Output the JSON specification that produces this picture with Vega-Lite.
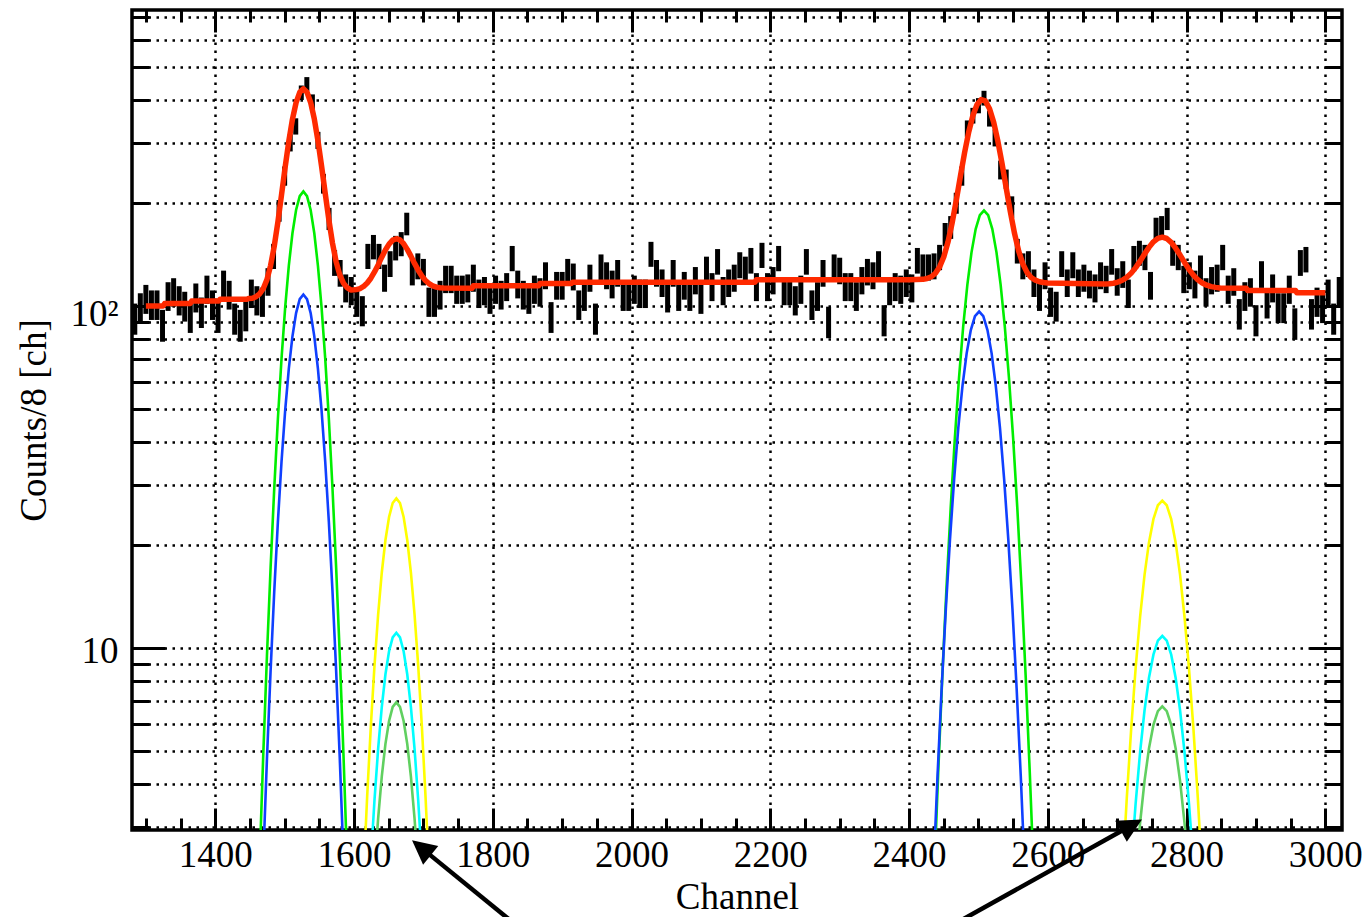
{
"$schema":"https://vega.github.io/schema/vega-lite/v6.json",
"width":1210,"height":820,
"autosize":{"type":"none"},
"padding":{"left":132,"top":10,"right":23,"bottom":87},
"background":"white",
"config":{
 "view":{"stroke":"black","strokeWidth":3.5},
 "font":"Liberation Serif",
 "axis":{"labelFont":"Liberation Serif","titleFont":"Liberation Serif","labelFontSize":37,"titleFontSize":37,"titleFontWeight":"normal","labelColor":"black","titleColor":"black","tickColor":"black","tickWidth":3,"gridColor":"black","gridDash":[2.5,5.5],"gridWidth":2.5,"gridOpacity":1,"domain":false,"labelOverlap":false,"labelFlush":false}
},
"resolve":{"axis":{"x":"independent","y":"independent"}},
"datasets":{
"hist":[
{"ch":1284,"n":92,"e":9.6},{"ch":1292,"n":99,"e":9.9},{"ch":1300,"n":105,"e":10.2},{"ch":1308,"n":101,"e":10},{"ch":1316,"n":101,"e":10},{"ch":1324,"n":88,"e":9.4},{"ch":1332,"n":107,"e":10.3},{"ch":1340,"n":110,"e":10.5},{"ch":1348,"n":104,"e":10.2},{"ch":1356,"n":100,"e":10},
{"ch":1364,"n":93,"e":9.6},{"ch":1372,"n":106,"e":10.3},{"ch":1380,"n":96,"e":9.8},{"ch":1388,"n":112,"e":10.6},{"ch":1396,"n":101,"e":10},{"ch":1404,"n":93,"e":9.6},{"ch":1412,"n":116,"e":10.8},{"ch":1420,"n":108,"e":10.4},{"ch":1428,"n":92,"e":9.6},{"ch":1436,"n":88,"e":9.4},
{"ch":1444,"n":94,"e":9.7},{"ch":1452,"n":109,"e":10.4},{"ch":1460,"n":104,"e":10.2},{"ch":1468,"n":103,"e":10.1},{"ch":1476,"n":118,"e":10.9},{"ch":1484,"n":140,"e":11.8},{"ch":1492,"n":190,"e":13.8},{"ch":1500,"n":240,"e":15.5},{"ch":1508,"n":300,"e":17.3},{"ch":1516,"n":335,"e":18.3},
{"ch":1524,"n":420,"e":20.5},{"ch":1532,"n":445,"e":21.1},{"ch":1540,"n":395,"e":19.9},{"ch":1548,"n":305,"e":17.5},{"ch":1556,"n":228,"e":15.1},{"ch":1564,"n":180,"e":13.4},{"ch":1572,"n":134,"e":11.6},{"ch":1580,"n":125,"e":11.2},{"ch":1588,"n":113,"e":10.6},{"ch":1596,"n":111,"e":10.5},
{"ch":1604,"n":103,"e":10.1},{"ch":1612,"n":97,"e":9.8},{"ch":1620,"n":140,"e":11.8},{"ch":1628,"n":149,"e":12.2},{"ch":1636,"n":140,"e":11.8},{"ch":1644,"n":121,"e":11},{"ch":1652,"n":133,"e":11.5},{"ch":1660,"n":148,"e":12.2},{"ch":1668,"n":152,"e":12.3},{"ch":1676,"n":174,"e":13.2},
{"ch":1684,"n":126,"e":11.2},{"ch":1692,"n":131,"e":11.4},{"ch":1700,"n":126,"e":11.2},{"ch":1708,"n":103,"e":10.1},{"ch":1716,"n":103,"e":10.1},{"ch":1724,"n":108,"e":10.4},{"ch":1732,"n":120,"e":11},{"ch":1740,"n":120,"e":11},{"ch":1748,"n":112,"e":10.6},{"ch":1756,"n":112,"e":10.6},
{"ch":1764,"n":113,"e":10.6},{"ch":1772,"n":121,"e":11},{"ch":1780,"n":109,"e":10.4},{"ch":1788,"n":111,"e":10.5},{"ch":1796,"n":105,"e":10.2},{"ch":1804,"n":112,"e":10.6},{"ch":1812,"n":108,"e":10.4},{"ch":1820,"n":114,"e":10.7},{"ch":1828,"n":138,"e":11.7},{"ch":1836,"n":116,"e":10.8},
{"ch":1844,"n":108,"e":10.4},{"ch":1852,"n":105,"e":10.2},{"ch":1860,"n":112,"e":10.6},{"ch":1868,"n":110,"e":10.5},{"ch":1876,"n":123,"e":11.1},{"ch":1884,"n":93,"e":9.6},{"ch":1892,"n":115,"e":10.7},{"ch":1900,"n":115,"e":10.7},{"ch":1908,"n":126,"e":11.2},{"ch":1916,"n":122,"e":11},
{"ch":1924,"n":101,"e":10},{"ch":1932,"n":107,"e":10.3},{"ch":1940,"n":121,"e":11},{"ch":1948,"n":92,"e":9.6},{"ch":1956,"n":130,"e":11.4},{"ch":1964,"n":123,"e":11.1},{"ch":1972,"n":116,"e":10.8},{"ch":1980,"n":125,"e":11.2},{"ch":1988,"n":107,"e":10.3},{"ch":1996,"n":107,"e":10.3},
{"ch":2004,"n":112,"e":10.6},{"ch":2012,"n":109,"e":10.4},{"ch":2020,"n":109,"e":10.4},{"ch":2028,"n":142,"e":11.9},{"ch":2036,"n":125,"e":11.2},{"ch":2044,"n":117,"e":10.8},{"ch":2052,"n":106,"e":10.3},{"ch":2060,"n":125,"e":11.2},{"ch":2068,"n":107,"e":10.3},{"ch":2076,"n":115,"e":10.7},
{"ch":2084,"n":107,"e":10.3},{"ch":2092,"n":119,"e":10.9},{"ch":2100,"n":105,"e":10.2},{"ch":2108,"n":128,"e":11.3},{"ch":2116,"n":114,"e":10.7},{"ch":2124,"n":135,"e":11.6},{"ch":2132,"n":111,"e":10.5},{"ch":2140,"n":117,"e":10.8},{"ch":2148,"n":121,"e":11},{"ch":2156,"n":132,"e":11.5},
{"ch":2164,"n":128,"e":11.3},{"ch":2172,"n":136,"e":11.7},{"ch":2180,"n":114,"e":10.7},{"ch":2188,"n":141,"e":11.9},{"ch":2196,"n":114,"e":10.7},{"ch":2204,"n":119,"e":10.9},{"ch":2212,"n":138,"e":11.7},{"ch":2220,"n":111,"e":10.5},{"ch":2228,"n":111,"e":10.5},{"ch":2236,"n":104,"e":10.2},
{"ch":2244,"n":112,"e":10.6},{"ch":2252,"n":135,"e":11.6},{"ch":2260,"n":101,"e":10},{"ch":2268,"n":107,"e":10.3},{"ch":2276,"n":125,"e":11.2},{"ch":2284,"n":90,"e":9.5},{"ch":2292,"n":130,"e":11.4},{"ch":2300,"n":127,"e":11.3},{"ch":2308,"n":114,"e":10.7},{"ch":2316,"n":114,"e":10.7},
{"ch":2324,"n":107,"e":10.3},{"ch":2332,"n":119,"e":10.9},{"ch":2340,"n":126,"e":11.2},{"ch":2348,"n":123,"e":11.1},{"ch":2356,"n":133,"e":11.5},{"ch":2364,"n":91,"e":9.5},{"ch":2372,"n":111,"e":10.5},{"ch":2380,"n":114,"e":10.7},{"ch":2388,"n":112,"e":10.6},{"ch":2396,"n":117,"e":10.8},
{"ch":2404,"n":113,"e":10.6},{"ch":2412,"n":136,"e":11.7},{"ch":2420,"n":130,"e":11.4},{"ch":2428,"n":130,"e":11.4},{"ch":2436,"n":131,"e":11.4},{"ch":2444,"n":139,"e":11.8},{"ch":2452,"n":162,"e":12.7},{"ch":2460,"n":170,"e":13},{"ch":2468,"n":200,"e":14.1},{"ch":2476,"n":240,"e":15.5},
{"ch":2484,"n":330,"e":18.2},{"ch":2492,"n":360,"e":19},{"ch":2500,"n":385,"e":19.6},{"ch":2508,"n":405,"e":20.1},{"ch":2516,"n":353,"e":18.8},{"ch":2524,"n":310,"e":17.6},{"ch":2532,"n":250,"e":15.8},{"ch":2540,"n":235,"e":15.3},{"ch":2548,"n":195,"e":14},{"ch":2556,"n":145,"e":12},
{"ch":2564,"n":131,"e":11.4},{"ch":2572,"n":133,"e":11.5},{"ch":2580,"n":117,"e":10.8},{"ch":2588,"n":107,"e":10.3},{"ch":2596,"n":123,"e":11.1},{"ch":2604,"n":103,"e":10.1},{"ch":2612,"n":100,"e":10},{"ch":2620,"n":133,"e":11.5},{"ch":2628,"n":117,"e":10.8},{"ch":2636,"n":132,"e":11.5},
{"ch":2644,"n":117,"e":10.8},{"ch":2652,"n":121,"e":11},{"ch":2660,"n":116,"e":10.8},{"ch":2668,"n":113,"e":10.6},{"ch":2676,"n":123,"e":11.1},{"ch":2684,"n":120,"e":11},{"ch":2692,"n":135,"e":11.6},{"ch":2700,"n":118,"e":10.9},{"ch":2708,"n":124,"e":11.1},{"ch":2716,"n":109,"e":10.4},
{"ch":2724,"n":138,"e":11.7},{"ch":2732,"n":143,"e":12},{"ch":2740,"n":139,"e":11.8},{"ch":2748,"n":115,"e":10.7},{"ch":2756,"n":168,"e":13},{"ch":2764,"n":170,"e":13},{"ch":2772,"n":180,"e":13.4},{"ch":2780,"n":143,"e":12},{"ch":2788,"n":139,"e":11.8},{"ch":2796,"n":120,"e":11},
{"ch":2804,"n":123,"e":11.1},{"ch":2812,"n":116,"e":10.8},{"ch":2820,"n":129,"e":11.4},{"ch":2828,"n":110,"e":10.5},{"ch":2836,"n":119,"e":10.9},{"ch":2844,"n":121,"e":11},{"ch":2852,"n":139,"e":11.8},{"ch":2860,"n":112,"e":10.6},{"ch":2868,"n":118,"e":10.9},{"ch":2876,"n":95,"e":9.7},
{"ch":2884,"n":107,"e":10.3},{"ch":2892,"n":110,"e":10.5},{"ch":2900,"n":91,"e":9.5},{"ch":2908,"n":124,"e":11.1},{"ch":2916,"n":102,"e":10.1},{"ch":2924,"n":113,"e":10.6},{"ch":2932,"n":99,"e":9.9},{"ch":2940,"n":99,"e":9.9},{"ch":2948,"n":112,"e":10.6},{"ch":2956,"n":89,"e":9.4},
{"ch":2964,"n":134,"e":11.6},{"ch":2972,"n":137,"e":11.7},{"ch":2980,"n":95,"e":9.7},{"ch":2988,"n":103,"e":10.1},{"ch":2996,"n":99,"e":9.9},{"ch":3004,"n":109,"e":10.4},{"ch":3012,"n":92,"e":9.6},{"ch":3020,"n":111,"e":10.5}
],
"comp":[
{"x":1458.75,"y":1.1,"c":"G","p":1},{"x":1464,"y":2.4,"c":"G","p":1},{"x":1469.25,"y":4.92,"c":"G","p":1},{"x":1474.5,"y":9.49,"c":"G","p":1},{"x":1479.75,"y":17.18,"c":"G","p":1},{"x":1485,"y":29.23,"c":"G","p":1},{"x":1490.25,"y":46.71,"c":"G","p":1},{"x":1495.5,"y":70.12,"c":"G","p":1},{"x":1500.75,"y":98.89,"c":"G","p":1},{"x":1506,"y":131.01,"c":"G","p":1},{"x":1511.25,"y":163.05,"c":"G","p":1},{"x":1516.5,"y":190.62,"c":"G","p":1},{"x":1521.75,"y":209.35,"c":"G","p":1},{"x":1527,"y":216,"c":"G","p":1},{"x":1532.25,"y":209.35,"c":"G","p":1},{"x":1537.5,"y":190.62,"c":"G","p":1},{"x":1542.75,"y":163.05,"c":"G","p":1},{"x":1548,"y":131.01,"c":"G","p":1},{"x":1553.25,"y":98.89,"c":"G","p":1},{"x":1558.5,"y":70.12,"c":"G","p":1},{"x":1563.75,"y":46.71,"c":"G","p":1},{"x":1569,"y":29.23,"c":"G","p":1},{"x":1574.25,"y":17.18,"c":"G","p":1},{"x":1579.5,"y":9.49,"c":"G","p":1},{"x":1584.75,"y":4.92,"c":"G","p":1},{"x":1590,"y":2.4,"c":"G","p":1},{"x":1595.25,"y":1.1,"c":"G","p":1},
{"x":1464,"y":1.2,"c":"B","p":1},{"x":1469.25,"y":2.46,"c":"B","p":1},{"x":1474.5,"y":4.75,"c":"B","p":1},{"x":1479.75,"y":8.59,"c":"B","p":1},{"x":1485,"y":14.62,"c":"B","p":1},{"x":1490.25,"y":23.36,"c":"B","p":1},{"x":1495.5,"y":35.06,"c":"B","p":1},{"x":1500.75,"y":49.45,"c":"B","p":1},{"x":1506,"y":65.51,"c":"B","p":1},{"x":1511.25,"y":81.52,"c":"B","p":1},{"x":1516.5,"y":95.31,"c":"B","p":1},{"x":1521.75,"y":104.68,"c":"B","p":1},{"x":1527,"y":108,"c":"B","p":1},{"x":1532.25,"y":104.68,"c":"B","p":1},{"x":1537.5,"y":95.31,"c":"B","p":1},{"x":1542.75,"y":81.52,"c":"B","p":1},{"x":1548,"y":65.51,"c":"B","p":1},{"x":1553.25,"y":49.45,"c":"B","p":1},{"x":1558.5,"y":35.06,"c":"B","p":1},{"x":1563.75,"y":23.36,"c":"B","p":1},{"x":1569,"y":14.62,"c":"B","p":1},{"x":1574.25,"y":8.59,"c":"B","p":1},{"x":1579.5,"y":4.75,"c":"B","p":1},{"x":1584.75,"y":2.46,"c":"B","p":1},{"x":1590,"y":1.2,"c":"B","p":1},
{"x":1608.5,"y":1.2,"c":"Y","p":2},{"x":1613.75,"y":2.18,"c":"Y","p":2},{"x":1619,"y":3.71,"c":"Y","p":2},{"x":1624.25,"y":5.93,"c":"Y","p":2},{"x":1629.5,"y":8.9,"c":"Y","p":2},{"x":1634.75,"y":12.54,"c":"Y","p":2},{"x":1640,"y":16.62,"c":"Y","p":2},{"x":1645.25,"y":20.68,"c":"Y","p":2},{"x":1650.5,"y":24.18,"c":"Y","p":2},{"x":1655.75,"y":26.56,"c":"Y","p":2},{"x":1661,"y":27.4,"c":"Y","p":2},{"x":1666.25,"y":26.56,"c":"Y","p":2},{"x":1671.5,"y":24.18,"c":"Y","p":2},{"x":1676.75,"y":20.68,"c":"Y","p":2},{"x":1682,"y":16.62,"c":"Y","p":2},{"x":1687.25,"y":12.54,"c":"Y","p":2},{"x":1692.5,"y":8.9,"c":"Y","p":2},{"x":1697.75,"y":5.93,"c":"Y","p":2},{"x":1703,"y":3.71,"c":"Y","p":2},{"x":1708.25,"y":2.18,"c":"Y","p":2},{"x":1713.5,"y":1.2,"c":"Y","p":2},
{"x":1619,"y":1.5,"c":"C","p":2},{"x":1624.25,"y":2.4,"c":"C","p":2},{"x":1629.5,"y":3.6,"c":"C","p":2},{"x":1634.75,"y":5.08,"c":"C","p":2},{"x":1640,"y":6.73,"c":"C","p":2},{"x":1645.25,"y":8.38,"c":"C","p":2},{"x":1650.5,"y":9.8,"c":"C","p":2},{"x":1655.75,"y":10.76,"c":"C","p":2},{"x":1661,"y":11.1,"c":"C","p":2},{"x":1666.25,"y":10.76,"c":"C","p":2},{"x":1671.5,"y":9.8,"c":"C","p":2},{"x":1676.75,"y":8.38,"c":"C","p":2},{"x":1682,"y":6.73,"c":"C","p":2},{"x":1687.25,"y":5.08,"c":"C","p":2},{"x":1692.5,"y":3.6,"c":"C","p":2},{"x":1697.75,"y":2.4,"c":"C","p":2},{"x":1703,"y":1.5,"c":"C","p":2},
{"x":1624.25,"y":1.5,"c":"L","p":2},{"x":1629.5,"y":2.26,"c":"L","p":2},{"x":1634.75,"y":3.18,"c":"L","p":2},{"x":1640,"y":4.22,"c":"L","p":2},{"x":1645.25,"y":5.25,"c":"L","p":2},{"x":1650.5,"y":6.13,"c":"L","p":2},{"x":1655.75,"y":6.74,"c":"L","p":2},{"x":1661,"y":6.95,"c":"L","p":2},{"x":1666.25,"y":6.74,"c":"L","p":2},{"x":1671.5,"y":6.13,"c":"L","p":2},{"x":1676.75,"y":5.25,"c":"L","p":2},{"x":1682,"y":4.22,"c":"L","p":2},{"x":1687.25,"y":3.18,"c":"L","p":2},{"x":1692.5,"y":2.26,"c":"L","p":2},{"x":1697.75,"y":1.5,"c":"L","p":2},
{"x":2430,"y":0.97,"c":"G","p":3},{"x":2436,"y":2.11,"c":"G","p":3},{"x":2442,"y":4.33,"c":"G","p":3},{"x":2448,"y":8.35,"c":"G","p":3},{"x":2454,"y":15.12,"c":"G","p":3},{"x":2460,"y":25.71,"c":"G","p":3},{"x":2466,"y":41.09,"c":"G","p":3},{"x":2472,"y":61.68,"c":"G","p":3},{"x":2478,"y":86.99,"c":"G","p":3},{"x":2484,"y":115.24,"c":"G","p":3},{"x":2490,"y":143.42,"c":"G","p":3},{"x":2496,"y":167.68,"c":"G","p":3},{"x":2502,"y":184.15,"c":"G","p":3},{"x":2508,"y":190,"c":"G","p":3},{"x":2514,"y":184.15,"c":"G","p":3},{"x":2520,"y":167.68,"c":"G","p":3},{"x":2526,"y":143.42,"c":"G","p":3},{"x":2532,"y":115.24,"c":"G","p":3},{"x":2538,"y":86.99,"c":"G","p":3},{"x":2544,"y":61.68,"c":"G","p":3},{"x":2550,"y":41.09,"c":"G","p":3},{"x":2556,"y":25.71,"c":"G","p":3},{"x":2562,"y":15.12,"c":"G","p":3},{"x":2568,"y":8.35,"c":"G","p":3},{"x":2574,"y":4.33,"c":"G","p":3},{"x":2580,"y":2.11,"c":"G","p":3},{"x":2586,"y":0.97,"c":"G","p":3},
{"x":2429,"y":1.07,"c":"B","p":3},{"x":2435,"y":2.19,"c":"B","p":3},{"x":2441,"y":4.23,"c":"B","p":3},{"x":2447,"y":7.66,"c":"B","p":3},{"x":2453,"y":13.03,"c":"B","p":3},{"x":2459,"y":20.83,"c":"B","p":3},{"x":2465,"y":31.26,"c":"B","p":3},{"x":2471,"y":44.09,"c":"B","p":3},{"x":2477,"y":58.41,"c":"B","p":3},{"x":2483,"y":72.69,"c":"B","p":3},{"x":2489,"y":84.98,"c":"B","p":3},{"x":2495,"y":93.34,"c":"B","p":3},{"x":2501,"y":96.3,"c":"B","p":3},{"x":2507,"y":93.34,"c":"B","p":3},{"x":2513,"y":84.98,"c":"B","p":3},{"x":2519,"y":72.69,"c":"B","p":3},{"x":2525,"y":58.41,"c":"B","p":3},{"x":2531,"y":44.09,"c":"B","p":3},{"x":2537,"y":31.26,"c":"B","p":3},{"x":2543,"y":20.83,"c":"B","p":3},{"x":2549,"y":13.03,"c":"B","p":3},{"x":2555,"y":7.66,"c":"B","p":3},{"x":2561,"y":4.23,"c":"B","p":3},{"x":2567,"y":2.19,"c":"B","p":3},{"x":2573,"y":1.07,"c":"B","p":3},
{"x":2701,"y":1.19,"c":"Y","p":4},{"x":2707.4,"y":2.15,"c":"Y","p":4},{"x":2713.8,"y":3.65,"c":"Y","p":4},{"x":2720.2,"y":5.84,"c":"Y","p":4},{"x":2726.6,"y":8.77,"c":"Y","p":4},{"x":2733,"y":12.36,"c":"Y","p":4},{"x":2739.4,"y":16.38,"c":"Y","p":4},{"x":2745.8,"y":20.38,"c":"Y","p":4},{"x":2752.2,"y":23.83,"c":"Y","p":4},{"x":2758.6,"y":26.17,"c":"Y","p":4},{"x":2765,"y":27,"c":"Y","p":4},{"x":2771.4,"y":26.17,"c":"Y","p":4},{"x":2777.8,"y":23.83,"c":"Y","p":4},{"x":2784.2,"y":20.38,"c":"Y","p":4},{"x":2790.6,"y":16.38,"c":"Y","p":4},{"x":2797,"y":12.36,"c":"Y","p":4},{"x":2803.4,"y":8.77,"c":"Y","p":4},{"x":2809.8,"y":5.84,"c":"Y","p":4},{"x":2816.2,"y":3.65,"c":"Y","p":4},{"x":2822.6,"y":2.15,"c":"Y","p":4},{"x":2829,"y":1.19,"c":"Y","p":4},
{"x":2713.8,"y":1.47,"c":"C","p":4},{"x":2720.2,"y":2.35,"c":"C","p":4},{"x":2726.6,"y":3.53,"c":"C","p":4},{"x":2733,"y":4.97,"c":"C","p":4},{"x":2739.4,"y":6.59,"c":"C","p":4},{"x":2745.8,"y":8.2,"c":"C","p":4},{"x":2752.2,"y":9.58,"c":"C","p":4},{"x":2758.6,"y":10.53,"c":"C","p":4},{"x":2765,"y":10.86,"c":"C","p":4},{"x":2771.4,"y":10.53,"c":"C","p":4},{"x":2777.8,"y":9.58,"c":"C","p":4},{"x":2784.2,"y":8.2,"c":"C","p":4},{"x":2790.6,"y":6.59,"c":"C","p":4},{"x":2797,"y":4.97,"c":"C","p":4},{"x":2803.4,"y":3.53,"c":"C","p":4},{"x":2809.8,"y":2.35,"c":"C","p":4},{"x":2816.2,"y":1.47,"c":"C","p":4},
{"x":2720.2,"y":1.46,"c":"L","p":4},{"x":2726.6,"y":2.19,"c":"L","p":4},{"x":2733,"y":3.09,"c":"L","p":4},{"x":2739.4,"y":4.1,"c":"L","p":4},{"x":2745.8,"y":5.1,"c":"L","p":4},{"x":2752.2,"y":5.97,"c":"L","p":4},{"x":2758.6,"y":6.55,"c":"L","p":4},{"x":2765,"y":6.76,"c":"L","p":4},{"x":2771.4,"y":6.55,"c":"L","p":4},{"x":2777.8,"y":5.97,"c":"L","p":4},{"x":2784.2,"y":5.1,"c":"L","p":4},{"x":2790.6,"y":4.1,"c":"L","p":4},{"x":2797,"y":3.09,"c":"L","p":4},{"x":2803.4,"y":2.19,"c":"L","p":4},{"x":2809.8,"y":1.46,"c":"L","p":4}
],
"fit":[
{"x":1300,"y":100},{"x":1325,"y":100},{"x":1327,"y":101.6},{"x":1364,"y":101.6},{"x":1366,"y":103.4},{"x":1405,"y":103.4},{"x":1407,"y":104.6},{"x":1446,"y":104.6},{"x":1448,"y":105.2},
{"x":1453.5,"y":105.3},{"x":1458.75,"y":106.4},{"x":1464,"y":108.5},{"x":1469.25,"y":112.5},{"x":1474.5,"y":119.4},{"x":1479.75,"y":131.2},{"x":1485,"y":149.4},{"x":1490.25,"y":175.8},{"x":1495.5,"y":211.1},{"x":1500.75,"y":254.3},{"x":1506,"y":302.7},{"x":1511.25,"y":350.9},{"x":1516.5,"y":392.4},{"x":1521.75,"y":420.7},{"x":1527,"y":430.8},{"x":1532.25,"y":421},{"x":1537.5,"y":393},{"x":1542.75,"y":351.9},{"x":1548,"y":303.9},{"x":1553.25,"y":255.9},{"x":1558.5,"y":213.1},{"x":1563.75,"y":178.3},{"x":1569,"y":152.4},{"x":1574.25,"y":134.5},{"x":1579.5,"y":123.2},{"x":1584.75,"y":116.6},{"x":1590,"y":113.1},{"x":1595.25,"y":111.4},{"x":1600.5,"y":111.5},
{"x":1603.25,"y":111.6},{"x":1608.5,"y":112.4},{"x":1613.75,"y":114},{"x":1619,"y":116.7},{"x":1624.25,"y":120.5},{"x":1629.5,"y":125.7},{"x":1634.75,"y":131.8},{"x":1640,"y":138.8},{"x":1645.25,"y":145.7},{"x":1650.5,"y":151.6},{"x":1655.75,"y":155.7},{"x":1661,"y":157.2},{"x":1666.25,"y":155.9},{"x":1671.5,"y":152},{"x":1676.75,"y":146.3},{"x":1682,"y":139.8},{"x":1687.25,"y":133.1},{"x":1692.5,"y":127.2},{"x":1697.75,"y":122.3},{"x":1703,"y":118.7},{"x":1708.25,"y":116.1},{"x":1713.5,"y":114.5},{"x":1718.75,"y":113.5},{"x":1724,"y":113},{"x":1729.25,"y":112.8},
{"x":1770,"y":112.6},{"x":1772,"y":114.5},{"x":1866,"y":114.5},{"x":1868,"y":116.2},{"x":1913,"y":116.2},{"x":1915,"y":117.3},{"x":2178,"y":117.3},{"x":2180,"y":119.3},{"x":2400,"y":119.3},
{"x":2420,"y":119.6},{"x":2426,"y":120.3},{"x":2432,"y":121.7},{"x":2438,"y":124.6},{"x":2444,"y":130},{"x":2450,"y":139},{"x":2456,"y":153.4},{"x":2462,"y":174.5},{"x":2468,"y":203.3},{"x":2474,"y":239.2},{"x":2480,"y":280.2},{"x":2486,"y":322.3},{"x":2492,"y":360},{"x":2498,"y":387.8},{"x":2504,"y":400.8},{"x":2510,"y":397},{"x":2516,"y":376.8},{"x":2522,"y":343.7},{"x":2528,"y":303},{"x":2534,"y":260.6},{"x":2540,"y":221.2},{"x":2546,"y":188.3},{"x":2552,"y":162.8},{"x":2558,"y":144.6},{"x":2564,"y":132.7},{"x":2570,"y":125.3},{"x":2576,"y":121.1},{"x":2582,"y":118.9},{"x":2588,"y":117.7},{"x":2594,"y":117.1},{"x":2600,"y":116.75},{"x":2640,"y":116.2},
{"x":2681.8,"y":115.9},{"x":2688.2,"y":116.1},{"x":2694.6,"y":116.5},{"x":2701,"y":117.4},{"x":2707.4,"y":118.9},{"x":2713.8,"y":121.2},{"x":2720.2,"y":124.7},{"x":2726.6,"y":129.4},{"x":2733,"y":135.2},{"x":2739.4,"y":141.8},{"x":2745.8,"y":148.3},{"x":2752.2,"y":153.9},{"x":2758.6,"y":157.6},{"x":2765,"y":158.8},{"x":2771.4,"y":157.4},{"x":2777.8,"y":153.4},{"x":2784.2,"y":147.5},{"x":2790.6,"y":140.8},{"x":2797,"y":134},{"x":2803.4,"y":127.9},{"x":2809.8,"y":123},{"x":2816.2,"y":119.2},{"x":2822.6,"y":116.7},{"x":2829,"y":115},{"x":2835.4,"y":113.9},{"x":2841.8,"y":113.3},{"x":2848.2,"y":112.8},
{"x":2886,"y":112.6},{"x":2888,"y":111},{"x":2957,"y":111},{"x":2959,"y":109.3},{"x":3000,"y":109.3}
],
"arrows":[{"x0":1843,"y0":1.499,"x1":1705.9,"y1":2.525},{"x0":2449,"y0":1.499,"x1":2710.5,"y1":2.96}],
"tip1":[{"x":1683.6,"y":2.748}],
"tip2":[{"x":2735.7,"y":3.16}]
},
"layer":[
{"data":{"name":"hist"},
 "mark":{"type":"errorbar","ticks":false,"color":"black","rule":{"strokeWidth":5}},
 "encoding":{
  "x":{"field":"ch","type":"quantitative","scale":{"domain":[1280,3024],"nice":false,"zero":false},"axis":null},
  "y":{"field":"n","type":"quantitative","scale":{"type":"log","domain":[2.945,732],"nice":false},
   "axis":{"orient":"left","values":[10],"ticks":false,"grid":false,"format":"d","labelPadding":14,"labelOffset":3.5,"title":null}},
  "yError":{"field":"e"}}},
{"data":{"name":"comp"},
 "mark":{"type":"line","strokeWidth":2.6,"clip":true},
 "encoding":{
  "x":{"field":"x","type":"quantitative","scale":{"domain":[1280,3024],"nice":false,"zero":false},
   "axis":{"orient":"bottom","values":[1300,1350,1400,1450,1500,1550,1600,1650,1700,1750,1800,1850,1900,1950,2000,2050,2100,2150,2200,2250,2300,2350,2400,2450,2500,2550,2600,2650,2700,2750,2800,2850,2900,2950,3000],"ticks":true,"tickSize":-12,"labels":false,"grid":false,"title":null}},
  "y":{"field":"y","type":"quantitative","scale":{"type":"log","domain":[2.945,732],"nice":false},
   "axis":{"orient":"left","values":[3,4,5,6,7,8,9,20,30,40,50,60,70,80,90,200,300,400,500,600,700],"ticks":true,"tickSize":-17,"labels":false,"grid":false,"title":null}},
  "color":{"field":"c","type":"nominal","scale":{"domain":["G","B","Y","C","L"],"range":["#00ee00","#1040ff","#ffff00","#00ffff","#60d060"]},"legend":null},
  "detail":{"field":"p","type":"nominal"}}},
{"data":{"name":"fit"},
 "mark":{"type":"line","color":"#ff2a00","strokeWidth":5.5,"strokeJoin":"round","clip":true},
 "encoding":{
  "x":{"field":"x","type":"quantitative","scale":{"domain":[1280,3024],"nice":false,"zero":false},
   "axis":{"orient":"bottom","values":[1400,1600,1800,2000,2200,2400,2600,2800,3000],"format":"d","ticks":false,"grid":true,"labelPadding":7,"title":"Channel","titlePadding":6}},
  "y":{"field":"y","type":"quantitative","scale":{"type":"log","domain":[2.945,732],"nice":false},
   "axis":{"orient":"left","values":[3,4,5,6,7,8,9,10,20,30,40,50,60,70,80,90,100,200,300,400,500,600,700],"ticks":false,"grid":true,"labelExpr":"datum.value == 100 ? '10²' : ''","labelPadding":14,"labelOffset":9,"title":"Counts/8 [ch]","titlePadding":16}}}},
{"data":{"name":"arrows"},
 "mark":{"type":"rule","color":"black","strokeWidth":4.5,"clip":false},
 "encoding":{
  "x":{"field":"x0","type":"quantitative","scale":{"domain":[1280,3024],"nice":false,"zero":false},
   "axis":{"orient":"top","values":[1300,1350,1400,1450,1500,1550,1600,1650,1700,1750,1800,1850,1900,1950,2000,2050,2100,2150,2200,2250,2300,2350,2400,2450,2500,2550,2600,2650,2700,2750,2800,2850,2900,2950,3000],"ticks":true,"tickSize":-12,"labels":false,"grid":false,"title":null}},
  "y":{"field":"y0","type":"quantitative","scale":{"type":"log","domain":[2.945,732],"nice":false},
   "axis":{"orient":"right","values":[3,4,5,6,7,8,9,20,30,40,50,60,70,80,90,200,300,400,500,600,700],"ticks":true,"tickSize":-17,"labels":false,"grid":false,"title":null}},
  "x2":{"field":"x1"},"y2":{"field":"y1"}}},
{"data":{"name":"tip1"},
 "mark":{"type":"point","shape":"M0,0L-0.5,1L0.5,1Z","size":2304,"filled":true,"color":"black","opacity":1,"angle":309,"clip":false},
 "encoding":{
  "x":{"field":"x","type":"quantitative","scale":{"domain":[1280,3024],"nice":false,"zero":false},
   "axis":{"orient":"bottom","values":[1400,1600,1800,2000,2200,2400,2600,2800,3000],"ticks":true,"tickSize":-22,"labels":false,"grid":false,"title":null}},
  "y":{"field":"y","type":"quantitative","scale":{"type":"log","domain":[2.945,732],"nice":false},
   "axis":{"orient":"left","values":[10,100],"ticks":true,"tickSize":-33,"labels":false,"grid":false,"title":null}}}},
{"data":{"name":"tip2"},
 "mark":{"type":"point","shape":"M0,0L-0.5,1L0.5,1Z","size":2304,"filled":true,"color":"black","opacity":1,"angle":60.9,"clip":false},
 "encoding":{
  "x":{"field":"x","type":"quantitative","scale":{"domain":[1280,3024],"nice":false,"zero":false},
   "axis":{"orient":"top","values":[1400,1600,1800,2000,2200,2400,2600,2800,3000],"ticks":true,"tickSize":-22,"labels":false,"grid":false,"title":null}},
  "y":{"field":"y","type":"quantitative","scale":{"type":"log","domain":[2.945,732],"nice":false},
   "axis":{"orient":"right","values":[10,100],"ticks":true,"tickSize":-33,"labels":false,"grid":false,"title":null}}}}
]
}
